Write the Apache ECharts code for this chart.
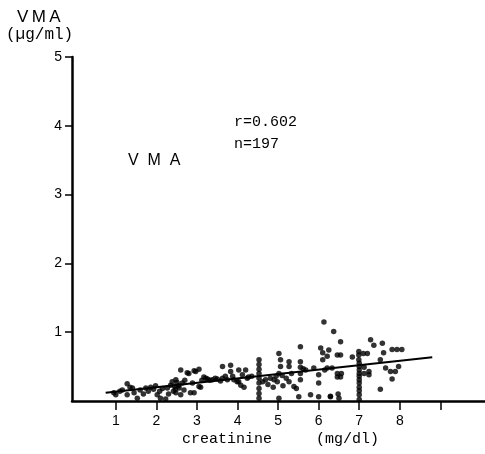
<!DOCTYPE html>
<html>
<head>
<meta charset="utf-8">
<script src="https://cdn.jsdelivr.net/npm/echarts@6/dist/echarts.min.js"></script>
<style>
  html, body { margin: 0; padding: 0; background: #fff; }
  #chart { width: 485px; height: 454px; }
</style>
</head>
<body>
<div id="chart"></div>
<script>
// Serum creatinine (mg/dl) vs. VMA (µg/ml), one entry per patient
const creatinineMgDl = [
  0.95, 1.0, 1.1, 1.16, 1.28, 1.28, 1.35, 1.41, 1.45, 1.53, 1.6,
  1.68, 1.74, 1.8, 1.86, 1.93, 1.98, 2.02, 2.08, 2.1, 2.15, 2.23, 2.27, 2.3, 2.35, 2.39, 2.42, 2.45, 2.47, 2.48, 2.48,
  2.51, 2.55, 2.56, 2.6, 2.6, 2.64, 2.68, 2.7, 2.76, 2.8, 2.84, 2.89, 2.93, 2.93, 2.97, 3.05, 3.05, 3.09, 3.12, 3.17, 3.22, 3.26, 3.32, 3.38, 3.45, 3.5,
  3.58, 3.63, 3.63, 3.7, 3.75, 3.83, 3.83, 3.88, 3.91, 3.99, 4.03, 4.03, 4.08, 4.12, 4.16, 4.2, 4.24, 4.27, 4.35,
  4.53, 4.53, 4.53, 4.53, 4.53, 4.53, 4.53, 4.53, 4.53,
  4.62, 4.69, 4.75, 4.81, 4.88, 4.9, 4.95, 4.98, 5.02, 5.02, 5.02, 5.06, 5.06, 5.1, 5.12, 5.2, 5.27, 5.27, 5.27, 5.33, 5.39, 5.45,
  5.51, 5.55, 5.55, 5.55, 5.55, 5.55, 5.62, 5.68, 5.8, 5.88, 6.0, 6.0, 6.0, 6.05, 6.1, 6.1, 6.13, 6.15, 6.21, 6.21, 6.25, 6.29, 6.29, 6.33, 6.37, 6.46, 6.46, 6.46, 6.48, 6.5, 6.54, 6.54, 6.54, 6.56,
  6.83, 6.99, 6.99, 6.99, 7.0, 7.0, 7.0, 7.0, 7.0, 7.0, 7.0, 7.0, 7.0, 7.0, 7.0, 7.1, 7.2, 7.12, 7.12, 7.24, 7.24,
  7.28, 7.36, 7.52, 7.52, 7.57, 7.6, 7.65, 7.77, 7.81, 7.81, 7.89, 7.93, 7.97, 8.05
];
const vmaUgMl = [
  0.12, 0.09, 0.14, 0.16, 0.25, 0.09, 0.2, 0.19, 0.12, 0.04, 0.16,
  0.1, 0.19, 0.14, 0.2, 0.17, 0.22, 0.09, 0.14, 0.04, 0.18, 0.03, 0.19, 0.1, 0.23, 0.28, 0.14, 0.21, 0.17, 0.31, 0.12,
  0.27, 0.22, 0.19, 0.45, 0.09, 0.26, 0.16, 0.3, 0.41, 0.4, 0.12, 0.26, 0.12, 0.44, 0.43, 0.46, 0.21, 0.2, 0.3, 0.35, 0.33, 0.32, 0.3, 0.31, 0.33, 0.32,
  0.29, 0.5, 0.33, 0.36, 0.31, 0.52, 0.43, 0.36, 0.31, 0.28, 0.45, 0.28, 0.23, 0.38, 0.2, 0.45, 0.33, 0.35, 0.36,
  0.6, 0.53, 0.46, 0.4, 0.33, 0.26, 0.18, 0.11, 0.04,
  0.28, 0.31, 0.24, 0.33, 0.2, 0.31, 0.36, 0.28, 0.69, 0.4, 0.04, 0.6, 0.5, 0.37, 0.22, 0.33, 0.57, 0.5, 0.28, 0.4, 0.21, 0.18,
  0.06, 0.79, 0.57, 0.49, 0.4, 0.31, 0.47, 0.45, 0.09, 0.48, 0.38, 0.26, 0.06, 0.77, 0.7, 0.6, 1.15, 0.45, 0.48, 0.65, 0.74, 0.06, 0.07, 0.48, 1.01, 0.67, 0.4, 0.35, 0.1, 0.04, 0.86, 0.67, 0.35, 0.4,
  0.64, 0.72, 0.67, 0.6, 0.55, 0.5, 0.45, 0.4, 0.36, 0.31, 0.26, 0.2, 0.15, 0.09, 0.02, 0.69, 0.69, 0.49, 0.4, 0.43, 0.38,
  0.89, 0.81, 0.6, 0.17, 0.84, 0.7, 0.48, 0.43, 0.32, 0.75, 0.43, 0.75, 0.5, 0.75
];

// Regression line end points
const fitX = [0.75, 8.8];
const fitY = [0.12, 0.635];

// Axis tick values and labels
const xTickValues = [1, 2, 3, 4, 5, 6, 7, 8, 9];
const xLabelValues = [1, 2, 3, 4, 5, 6, 7, 8];
const yTickValues = [1, 2, 3, 4, 5];

const points = creatinineMgDl.map((x, i) => [x, vmaUgMl[i]]);
const fitLine = fitX.map((x, i) => [x, fitY[i]]);

const ink = '#000000';
const sans = '"Liberation Sans", Arial, sans-serif';
const mono = '"Liberation Mono", "DejaVu Sans Mono", monospace';

const chart = echarts.init(document.getElementById('chart'), null, { renderer: 'canvas' });
chart.setOption({
  backgroundColor: '#ffffff',
  animation: false,
  grid: { left: 72, right: 0, top: 57, bottom: 53, containLabel: false },
  xAxis: {
    type: 'value',
    min: -0.08,
    max: 10.1,
    splitLine: { show: false },
    axisLine: { show: true, onZero: false, lineStyle: { color: ink, width: 2.5 } },
    axisTick: { show: true, inside: false, length: 9, customValues: xTickValues, lineStyle: { color: ink, width: 1.5 } },
    axisLabel: { show: true, customValues: xLabelValues, margin: 13, color: ink, fontSize: 14, fontFamily: sans }
  },
  yAxis: {
    type: 'value',
    min: 0,
    max: 5,
    splitLine: { show: false },
    axisLine: { show: true, onZero: false, lineStyle: { color: ink, width: 2.5 } },
    axisTick: { show: true, inside: false, length: 7, customValues: yTickValues, lineStyle: { color: ink, width: 1.5 } },
    axisLabel: { show: true, customValues: yTickValues, margin: 10, color: ink, fontSize: 14, fontFamily: sans }
  },
  series: [
    {
      type: 'scatter',
      data: points,
      symbol: 'circle',
      symbolSize: 5.5,
      itemStyle: { color: ink },
      z: 3
    },
    {
      type: 'line',
      data: fitLine,
      symbol: 'none',
      lineStyle: { color: ink, width: 2 },
      z: 2
    }
  ],
  graphic: [
    { type: 'text', left: 17, top: 9, style: { text: 'V\u2009M\u2009A', font: '17px ' + sans, fill: ink } },
    { type: 'text', left: 6, top: 27, style: { text: '(µg/ml)', font: '16px ' + mono, fill: ink } },
    { type: 'text', left: 128, top: 153, style: { text: 'V  M  A', font: '16px ' + sans, fill: ink } },
    { type: 'text', left: 234, top: 115, style: { text: 'r=0.602', font: '15px ' + mono, fill: ink } },
    { type: 'text', left: 234, top: 137, style: { text: 'n=197', font: '15px ' + mono, fill: ink } },
    { type: 'text', left: 182, top: 432, style: { text: 'creatinine', font: '15px ' + mono, fill: ink } },
    { type: 'text', left: 316, top: 432, style: { text: '(mg/dl)', font: '15px ' + mono, fill: ink } }
  ]
});
</script>
</body>
</html>
